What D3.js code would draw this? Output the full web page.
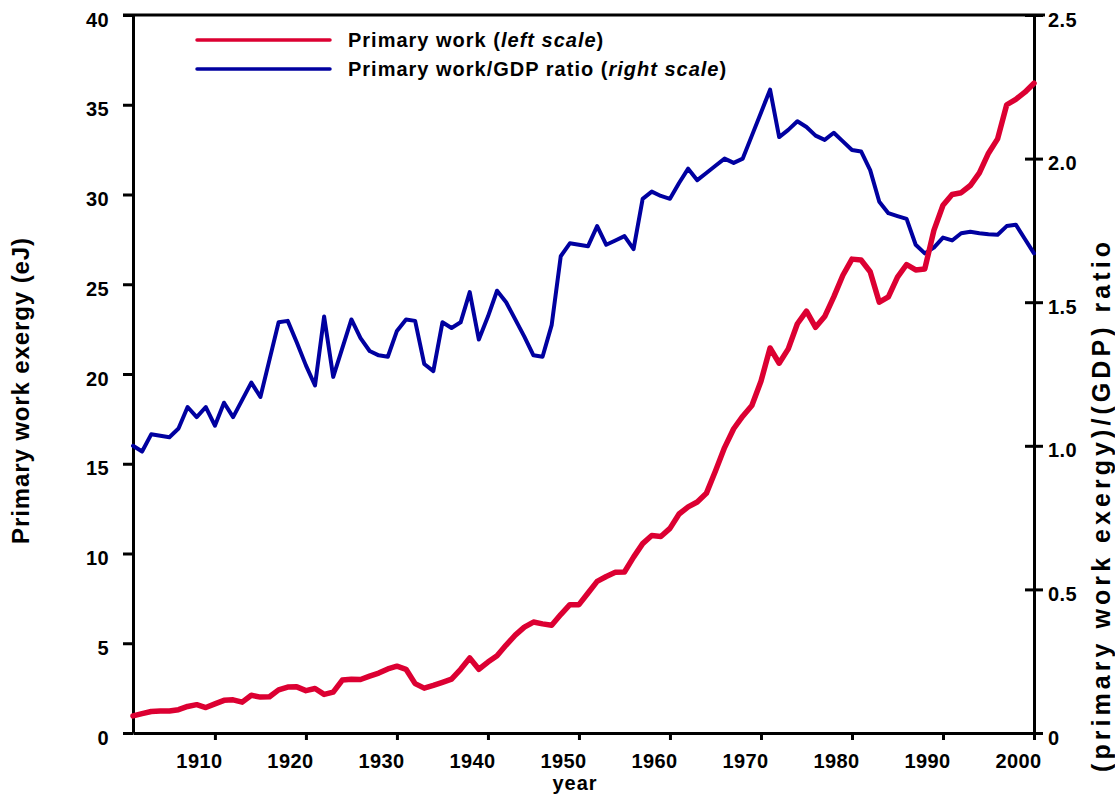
<!DOCTYPE html>
<html>
<head>
<meta charset="utf-8">
<script src="https://cdn.jsdelivr.net/npm/d3@7"></script>
<style>
  body { margin: 0; background: #fff; }
  text { font-family: "Liberation Sans", Arial, sans-serif; font-weight: bold; fill: #000; }
</style>
</head>
<body>
<div id="chart"></div>
<script>
// Years 1901-2000
const years = d3.range(1901, 2001);

// Primary work exergy, eJ (left scale)
const primaryWork = [
  0.95, 1.08, 1.20, 1.23, 1.23, 1.30, 1.48, 1.58, 1.42, 1.62,
  1.82, 1.85, 1.72, 2.10, 2.00, 2.02, 2.40, 2.56, 2.57, 2.36,
  2.48, 2.15, 2.28, 2.95, 3.00, 2.98, 3.17, 3.34, 3.57, 3.72,
  3.55, 2.75, 2.50, 2.65, 2.82, 3.00, 3.55, 4.18, 3.55, 3.95,
  4.30, 4.90, 5.45, 5.90, 6.18, 6.08, 6.00, 6.60, 7.15, 7.15,
  7.80, 8.45, 8.72, 8.95, 8.97, 9.80, 10.55, 11.00, 10.95, 11.40,
  12.20, 12.60, 12.87, 13.35, 14.60, 15.90, 16.95, 17.65, 18.25, 19.60,
  21.45, 20.60, 21.40, 22.80, 23.50, 22.60, 23.20, 24.30, 25.50, 26.40,
  26.35, 25.70, 24.00, 24.30, 25.40, 26.10, 25.80, 25.85, 28.00, 29.40,
  30.00, 30.10, 30.50, 31.20, 32.30, 33.10, 35.00, 35.30, 35.70, 36.20
];

// Primary work / GDP ratio (right scale)
const workGdpRatio = [
  1.00, 0.98, 1.04, 1.035, 1.03, 1.06, 1.135, 1.10, 1.135, 1.07,
  1.15, 1.10, 1.16, 1.22, 1.17, 1.30, 1.43, 1.435, 1.36, 1.28,
  1.21, 1.45, 1.24, 1.34, 1.44, 1.375, 1.33, 1.315, 1.31, 1.40,
  1.44, 1.435, 1.285, 1.26, 1.43, 1.41, 1.43, 1.535, 1.37, 1.45,
  1.54, 1.50, 1.44, 1.38, 1.315, 1.31, 1.42, 1.66, 1.705, 1.70,
  1.695, 1.765, 1.70, 1.715, 1.73, 1.685, 1.86, 1.885, 1.87, 1.86,
  1.915, 1.965, 1.925, 1.95, 1.975, 2.00, 1.985, 2.00, 2.08, 2.16,
  2.24, 2.075, 2.10, 2.13, 2.11, 2.08, 2.065, 2.09, 2.06, 2.03,
  2.025, 1.96, 1.85, 1.81, 1.80, 1.79, 1.70, 1.67, 1.69, 1.725,
  1.715, 1.74, 1.745, 1.74, 1.737, 1.735, 1.765, 1.77, 1.72, 1.67
];

const xTicks = [1910, 1920, 1930, 1940, 1950, 1960, 1970, 1980, 1990, 2000];
const leftTicks = [0, 5, 10, 15, 20, 25, 30, 35, 40];
const rightTicks = [0, 0.5, 1.0, 1.5, 2.0, 2.5];
const legendLabels = [
  ["Primary work (", "left scale", ")"],
  ["Primary work/GDP ratio (", "right scale", ")"]
];

const red = "#dc0032";
const blue = "#0000a0";

const margin = { top: 15, right: 81, bottom: 63, left: 133 };
const width = 1115 - margin.left - margin.right;
const height = 796 - margin.top - margin.bottom;

const svg = d3.select("#chart")
  .append("svg")
  .attr("width", 1115)
  .attr("height", 796);

const g = svg.append("g")
  .attr("transform", `translate(${margin.left},${margin.top})`);

// Scales
const x = d3.scaleLinear().domain([1901, 2000]).range([0, width]);
const yL = d3.scaleLinear().domain([0, 40]).range([height, 0]);
const yR = d3.scaleLinear().domain([0, 2.5]).range([height, 0]);

// Top frame line
g.append("line")
  .attr("x1", -10).attr("x2", width + 11)
  .attr("y1", 0).attr("y2", 0)
  .attr("stroke", "#000").attr("stroke-width", 3);

// Left axis
const axL = g.append("g")
  .call(d3.axisLeft(yL).tickValues(leftTicks).tickSize(10).tickSizeOuter(0).tickPadding(14));
// Right axis, ticks cross the axis line
const axR = g.append("g")
  .attr("transform", `translate(${width},0)`)
  .call(d3.axisRight(yR).tickValues(rightTicks).tickSize(9).tickSizeOuter(0).tickPadding(5)
    .tickFormat(d => d === 0 ? "0" : d3.format(".1f")(d)));
axR.selectAll(".tick line").attr("x1", -9);
// Bottom axis
const axB = g.append("g")
  .attr("transform", `translate(0,${height})`)
  .call(d3.axisBottom(x).tickValues(xTicks).tickSize(7).tickSizeOuter(0).tickPadding(14)
    .tickFormat(d3.format("d")));
axB.selectAll(".tick text").attr("dx", -16);

[axL, axR, axB].forEach(ax => {
  ax.select(".domain").attr("stroke", "#000").attr("stroke-width", 3);
  ax.selectAll(".tick line").attr("stroke", "#000").attr("stroke-width", 3);
  ax.selectAll(".tick text")
    .style("font-family", "'Liberation Sans', Arial, sans-serif")
    .style("font-weight", "bold")
    .style("font-size", "20px")
    .style("letter-spacing", "0.4px")
    .attr("fill", "#000");
});
axL.selectAll(".tick text").attr("dy", "0.55em");
axR.selectAll(".tick text").attr("dy", "0.55em");

// Axis titles
svg.append("text")
  .attr("transform", "rotate(-90)")
  .attr("x", -391).attr("y", 29)
  .attr("text-anchor", "middle")
  .attr("textLength", 306)
  .attr("lengthAdjust", "spacing")
  .style("font-size", "24px")
  .text("Primary work exergy (eJ)");

svg.append("text")
  .attr("transform", "rotate(-90)")
  .attr("x", -507).attr("y", 1110)
  .attr("text-anchor", "middle")
  .attr("textLength", 530)
  .attr("lengthAdjust", "spacing")
  .style("font-size", "25px")
  .text("(primary work exergy)/(GDP) ratio");

svg.append("text")
  .attr("x", 575).attr("y", 790)
  .attr("text-anchor", "middle")
  .style("font-size", "20px")
  .style("letter-spacing", "1px")
  .text("year");

// Lines
const redLine = d3.line()
  .x((d, i) => x(years[i]))
  .y(d => yL(d));
const blueLine = d3.line()
  .x((d, i) => x(years[i]))
  .y(d => yR(d));

g.append("path")
  .datum(workGdpRatio)
  .attr("fill", "none")
  .attr("stroke", blue)
  .attr("stroke-width", 4)
  .attr("stroke-linejoin", "round")
  .attr("stroke-linecap", "round")
  .attr("d", blueLine);

g.append("path")
  .datum(primaryWork)
  .attr("fill", "none")
  .attr("stroke", red)
  .attr("stroke-width", 5.5)
  .attr("stroke-linejoin", "round")
  .attr("stroke-linecap", "round")
  .attr("d", redLine);

// Legend
const legend = svg.append("g").attr("transform", "translate(197,40)");
[red, blue].forEach((c, i) => {
  const row = legend.append("g").attr("transform", `translate(0,${i * 29})`);
  row.append("line")
    .attr("x1", 0).attr("x2", 133)
    .attr("stroke", c).attr("stroke-width", 3.5)
    .attr("stroke-linecap", "round");
  const t = row.append("text")
    .attr("x", 151).attr("y", 7)
    .style("font-size", "20px")
    .style("letter-spacing", "1px");
  t.append("tspan").text(legendLabels[i][0]);
  t.append("tspan").style("font-style", "italic").text(legendLabels[i][1]);
  t.append("tspan").text(legendLabels[i][2]);
});
</script>
</body>
</html>
